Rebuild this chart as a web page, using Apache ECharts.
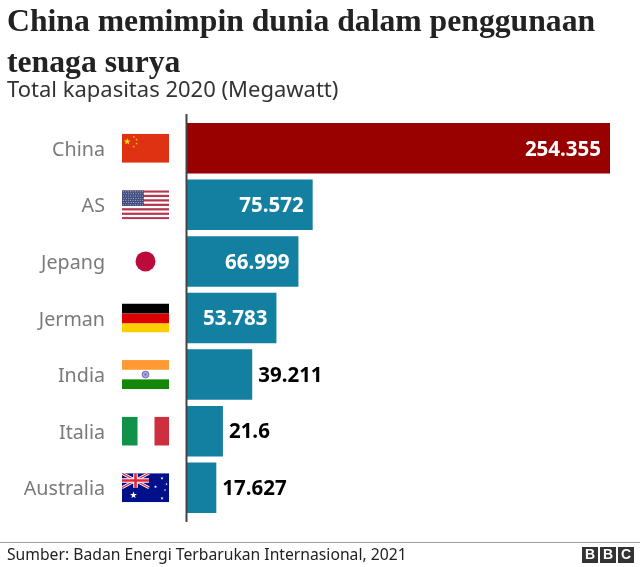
<!DOCTYPE html>
<html>
<head>
<meta charset="utf-8">
<style>
html,body{margin:0;padding:0;background:#fff}
#main{width:640px;height:567px}
</style>
<script src="https://cdn.jsdelivr.net/npm/echarts@6/dist/echarts.min.js"></script>
</head>
<body>
<div id="main"></div>
<script>
var countries = ['China', 'AS', 'Jepang', 'Jerman', 'India', 'Italia', 'Australia'];
var capacity = [254.355, 75.572, 66.999, 53.783, 39.211, 21.6, 17.627];
var barColors = ['#990000', '#1380A1', '#1380A1', '#1380A1', '#1380A1', '#1380A1', '#1380A1'];
var labelInside = [true, true, true, true, false, false, false];

var svg = function (body) {
	return 'data:image/svg+xml;charset=utf-8,' + encodeURIComponent(
		'<svg xmlns="http://www.w3.org/2000/svg" width="188" height="116" viewBox="0 0 47 29">' + body + '</svg>');
};
var star = function (x, y, r, c) {
	var p = [];
	for (var i = 0; i < 10; i++) {
		var a = -Math.PI / 2 + i * Math.PI / 5, q = i % 2 ? r * 0.4 : r;
		p.push((x + q * Math.cos(a)).toFixed(2) + ',' + (y + q * Math.sin(a)).toFixed(2));
	}
	return '<polygon points="' + p.join(' ') + '" fill="' + c + '"/>';
};
var usaFlag = function () {
	var s = '<rect width="47" height="29" fill="#fff"/>';
	for (var i = 0; i < 7; i++) s += '<rect y="' + (i * 4.46).toFixed(2) + '" width="47" height="2.23" fill="#b5364f"/>';
	s += '<rect width="22" height="15.6" fill="#3f4a7d"/>';
	for (var r = 0; r < 7; r++) for (var c = 0; c < 9; c++)
		s += '<circle cx="' + (1.4 + c * 2.4 + (r % 2) * 0.6).toFixed(1) + '" cy="' + (1.4 + r * 2.15).toFixed(1) + '" r="0.5" fill="#d8dcec"/>';
	return s;
};
var ausFlag = function () {
	var s = '<rect width="47" height="29" fill="#00108a"/>';
	s += '<path d="M0 0L27 14.5M27 0L0 14.5" stroke="#fff" stroke-width="3"/>';
	s += '<path d="M0 0L27 14.5M27 0L0 14.5" stroke="#e0263c" stroke-width="1.2"/>';
	s += '<path d="M13.5 0V14.5M0 7.25H27" stroke="#fff" stroke-width="4.6"/>';
	s += '<path d="M13.5 0V14.5M0 7.25H27" stroke="#e0263c" stroke-width="2.6"/>';
	s += star(11.5, 22, 3.6, '#fff') + star(40, 5, 1.7, '#fff') + star(33.5, 13.5, 1.7, '#fff');
	s += star(44.5, 11, 1.3, '#fff') + star(43, 17, 1.1, '#fff') + star(40, 25, 1.7, '#fff');
	return s;
};
var flags = [
	svg('<rect width="47" height="29" fill="#de3212"/>' + star(5.2, 7.8, 3.6, '#ffde00') +
		star(11.8, 3.2, 1.3, '#ffde00') + star(14.6, 6, 1.3, '#ffde00') + star(14.6, 9.8, 1.3, '#ffde00') + star(11.8, 12.8, 1.3, '#ffde00')),
	svg(usaFlag()),
	svg('<circle cx="23.5" cy="14.5" r="10" fill="#bc0a3c"/>'),
	svg('<rect width="47" height="10" fill="#000"/><rect y="10" width="47" height="10" fill="#dd0000"/><rect y="20" width="47" height="9" fill="#ffce00"/>'),
	svg('<rect width="47" height="9.7" fill="#ff9933"/><rect y="19.3" width="47" height="9.7" fill="#138808"/><circle cx="23.5" cy="14.5" r="3.4" fill="#a9a9dc" stroke="#6a6abf" stroke-width="1"/><circle cx="23.5" cy="14.5" r="1" fill="#5a5ab0"/>'),
	svg('<rect width="15.5" height="29" fill="#11924a"/><rect x="32.5" width="14.5" height="29" fill="#cf2e3e"/>'),
	svg(ausFlag())
];

var chart = echarts.init(document.getElementById('main'), null, {renderer: 'canvas'});
chart.setOption({
	animation: false,
	backgroundColor: '#fff',
	title: [
		{
			text: 'China memimpin dunia dalam penggunaan\ntenaga surya',
			left: 7, top: 2, padding: 0,
			textStyle: {fontFamily: 'Liberation Serif', fontWeight: 'bold', fontSize: 31.7, lineHeight: 41, color: '#222222'}
		},
		{
			text: 'Total kapasitas 2020 (Megawatt)',
			left: 7, top: 78, padding: 0,
			textStyle: {fontFamily: 'Noto Sans', fontWeight: 'normal', fontSize: 22, lineHeight: 26, color: '#333333'}
		}
	],
	grid: {left: 187, top: 120, width: 423, height: 396},
	xAxis: {type: 'value', min: 0, max: 254.355, show: false},
	yAxis: {
		type: 'category',
		inverse: true,
		data: countries,
		axisLine: {show: false},
		axisTick: {show: false},
		axisLabel: {
			margin: 82,
			formatter: '{a|{value}}',
			rich: {a: {padding: [4, 0, 0, 0], fontFamily: 'Noto Sans', fontSize: 19.7, color: '#7a7a7a'}}
		}
	},
	series: [
		{
			type: 'bar',
			barWidth: 50.5,
			data: capacity.map(function (v, i) {
				return {
					value: v,
					itemStyle: {color: barColors[i]},
					label: {
						show: true,
						position: labelInside[i] ? 'insideRight' : 'right',
						distance: labelInside[i] ? 9 : 6,
						offset: [0, 1.5],
						color: labelInside[i] ? '#fff' : '#000',
						fontFamily: 'Noto Sans',
						fontWeight: 'bold',
						fontSize: 20.5,
						formatter: String(v)
					}
				};
			})
		},
		{
			type: 'custom',
			silent: true,
			clip: false,
			encode: {x: 0, y: 1},
			data: capacity.map(function (v, i) { return [0, i]; }),
			renderItem: function (params, api) {
				var p = api.coord([0, api.value(1)]);
				return {
					type: 'image',
					style: {image: flags[params.dataIndex], x: p[0] - 65, y: p[1] - 14.5, width: 47, height: 29}
				};
			}
		}
	],
	graphic: [
		{type: 'line', shape: {x1: 186.5, y1: 114, x2: 186.5, y2: 522}, style: {stroke: '#444444', lineWidth: 2}, z: 10},
		{type: 'line', shape: {x1: 0, y1: 542.5, x2: 640, y2: 542.5}, style: {stroke: '#a0a0a0', lineWidth: 1}},
		{type: 'text', x: 7, y: 548, style: {text: 'Sumber: Badan Energi Terbarukan Internasional, 2021', fontFamily: 'Noto Sans', fontSize: 15.7, fill: '#222222'}},
		{type: 'rect', shape: {x: 582, y: 547, width: 16, height: 16}, style: {fill: '#333333'}},
		{type: 'rect', shape: {x: 600, y: 547, width: 16, height: 16}, style: {fill: '#333333'}},
		{type: 'rect', shape: {x: 618, y: 547, width: 16, height: 16}, style: {fill: '#333333'}},
		{type: 'text', x: 590, y: 555, style: {text: 'B', align: 'center', verticalAlign: 'middle', fontFamily: 'Liberation Sans', fontWeight: 'bold', fontSize: 14, fill: '#fff'}},
		{type: 'text', x: 608, y: 555, style: {text: 'B', align: 'center', verticalAlign: 'middle', fontFamily: 'Liberation Sans', fontWeight: 'bold', fontSize: 14, fill: '#fff'}},
		{type: 'text', x: 626, y: 555, style: {text: 'C', align: 'center', verticalAlign: 'middle', fontFamily: 'Liberation Sans', fontWeight: 'bold', fontSize: 14, fill: '#fff'}}
	]
});
</script>
</body>
</html>
